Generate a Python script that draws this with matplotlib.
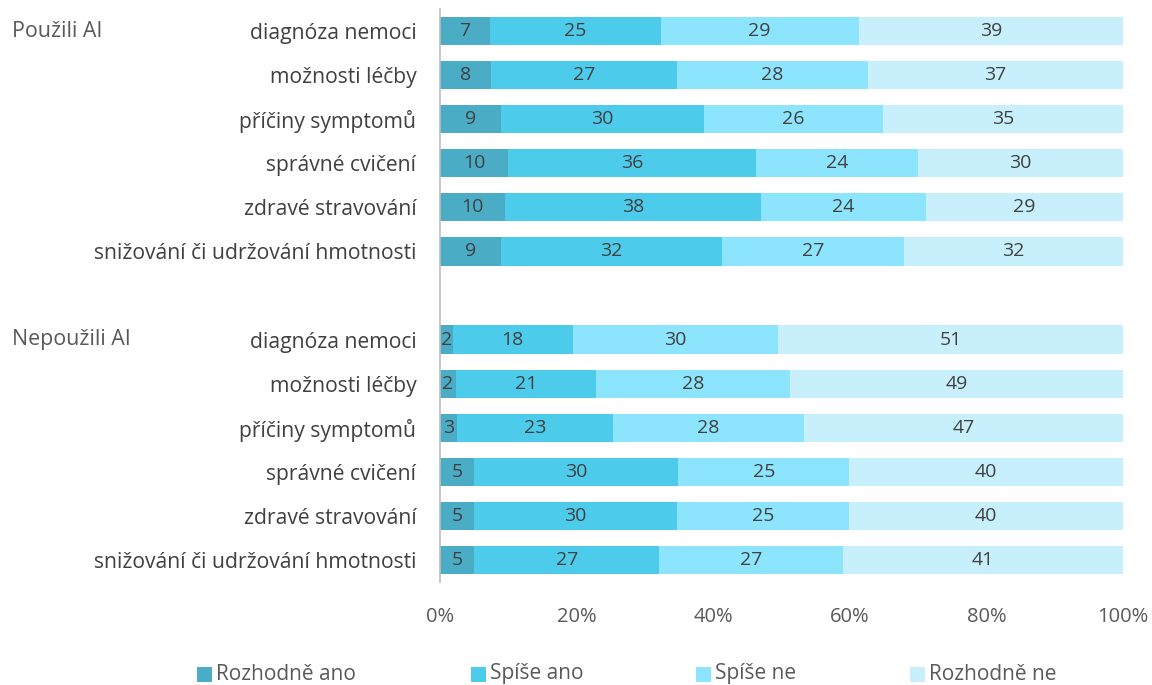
import numpy as np
import matplotlib
matplotlib.use("Agg")
import matplotlib.pyplot as plt
from matplotlib.patches import Rectangle

plt.rcParams['font.family'] = ['Open Sans', 'DejaVu Sans']

# data (percent)
categories = ['diagnóza nemoci', 'možnosti léčby', 'příčiny symptomů',
              'správné cvičení', 'zdravé stravování', 'snižování či udržování hmotnosti']
groups = ['Použili AI', 'Nepoužili AI']
series = ['Rozhodně ano', 'Spíše ano', 'Spíše ne', 'Rozhodně ne']

used_rozhodne_ano = [7.3, 7.5, 8.9, 10.0, 9.5, 8.9]
used_spise_ano = [25.0, 27.2, 29.7, 36.3, 37.5, 32.4]
used_spise_ne = [29.0, 27.9, 26.3, 23.7, 24.1, 26.6]
used_rozhodne_ne = [38.7, 37.4, 35.1, 30.0, 28.9, 32.1]

notused_rozhodne_ano = [1.9, 2.3, 2.5, 5.0, 5.0, 5.0]
notused_spise_ano = [17.5, 20.6, 22.8, 29.9, 29.7, 27.1]
notused_spise_ne = [30.1, 28.4, 28.0, 25.0, 25.2, 26.9]
notused_rozhodne_ne = [50.5, 48.7, 46.7, 40.1, 40.1, 41.0]

colors = ['#4BACC6', '#4DCBEB', '#8CE5FD', '#C8F0FC']

W, H = 1152, 685
fig = plt.figure(figsize=(W / 100, H / 100), dpi=100)
ax = fig.add_axes([440 / W, 1 - 582 / H, 683 / W, 573 / H])

blocks = [
    (np.arange(6), [used_rozhodne_ano, used_spise_ano, used_spise_ne, used_rozhodne_ne]),
    (np.arange(7, 13), [notused_rozhodne_ano, notused_spise_ano, notused_spise_ne, notused_rozhodne_ne]),
]

for ypos, vals in blocks:
    left = np.zeros(len(ypos))
    for i, v in enumerate(vals):
        v = np.array(v)
        ax.barh(ypos, v, left=left, height=0.64, color=colors[i], edgecolor='none')
        for y, l, w in zip(ypos, left, v):
            ax.text(l + w / 2, y, f'{int(np.floor(w + 0.5))}', ha='center', va='center',
                    fontsize=14, color='#404040')
        left = left + v

ax.set_xlim(0, 100)
ax.set_ylim(12.5, -0.5)
ax.set_xticks(np.arange(0, 101, 20))
ax.set_xticklabels([f'{t}%' for t in range(0, 101, 20)])
ax.tick_params(axis='x', length=0, labelsize=14.5, labelcolor='#595959', pad=18)

yt = list(np.arange(6)) + list(np.arange(7, 13))
ax.set_yticks(yt)
ax.set_yticklabels(categories + categories)
ax.tick_params(axis='y', length=0, labelsize=15.2, labelcolor='#404040', pad=17)

for s in ['top', 'right', 'bottom']:
    ax.spines[s].set_visible(False)
ax.spines['left'].set_color('#BFBFBF')
ax.spines['left'].set_linewidth(1.2)

# group labels
for g, y in zip(groups, [0, 7]):
    ax.text(12 / W, ax.transData.transform((0, y))[1] / H, g,
            transform=fig.transFigure, ha='left', va='center',
            fontsize=15.4, color='#595959')

# legend, entries placed like in the original
leg_x = [197, 471, 696, 910]
for x, c, name in zip(leg_x, colors, series):
    fig.patches.append(Rectangle((x / W, 1 - 682 / H), 15 / W, 15 / H,
                                 transform=fig.transFigure, facecolor=c, edgecolor='none'))
    fig.text((x + 19) / W, 1 - 674 / H, name, ha='left', va='center',
             fontsize=15, color='#595959')

fig.savefig('out.png', dpi=100)
